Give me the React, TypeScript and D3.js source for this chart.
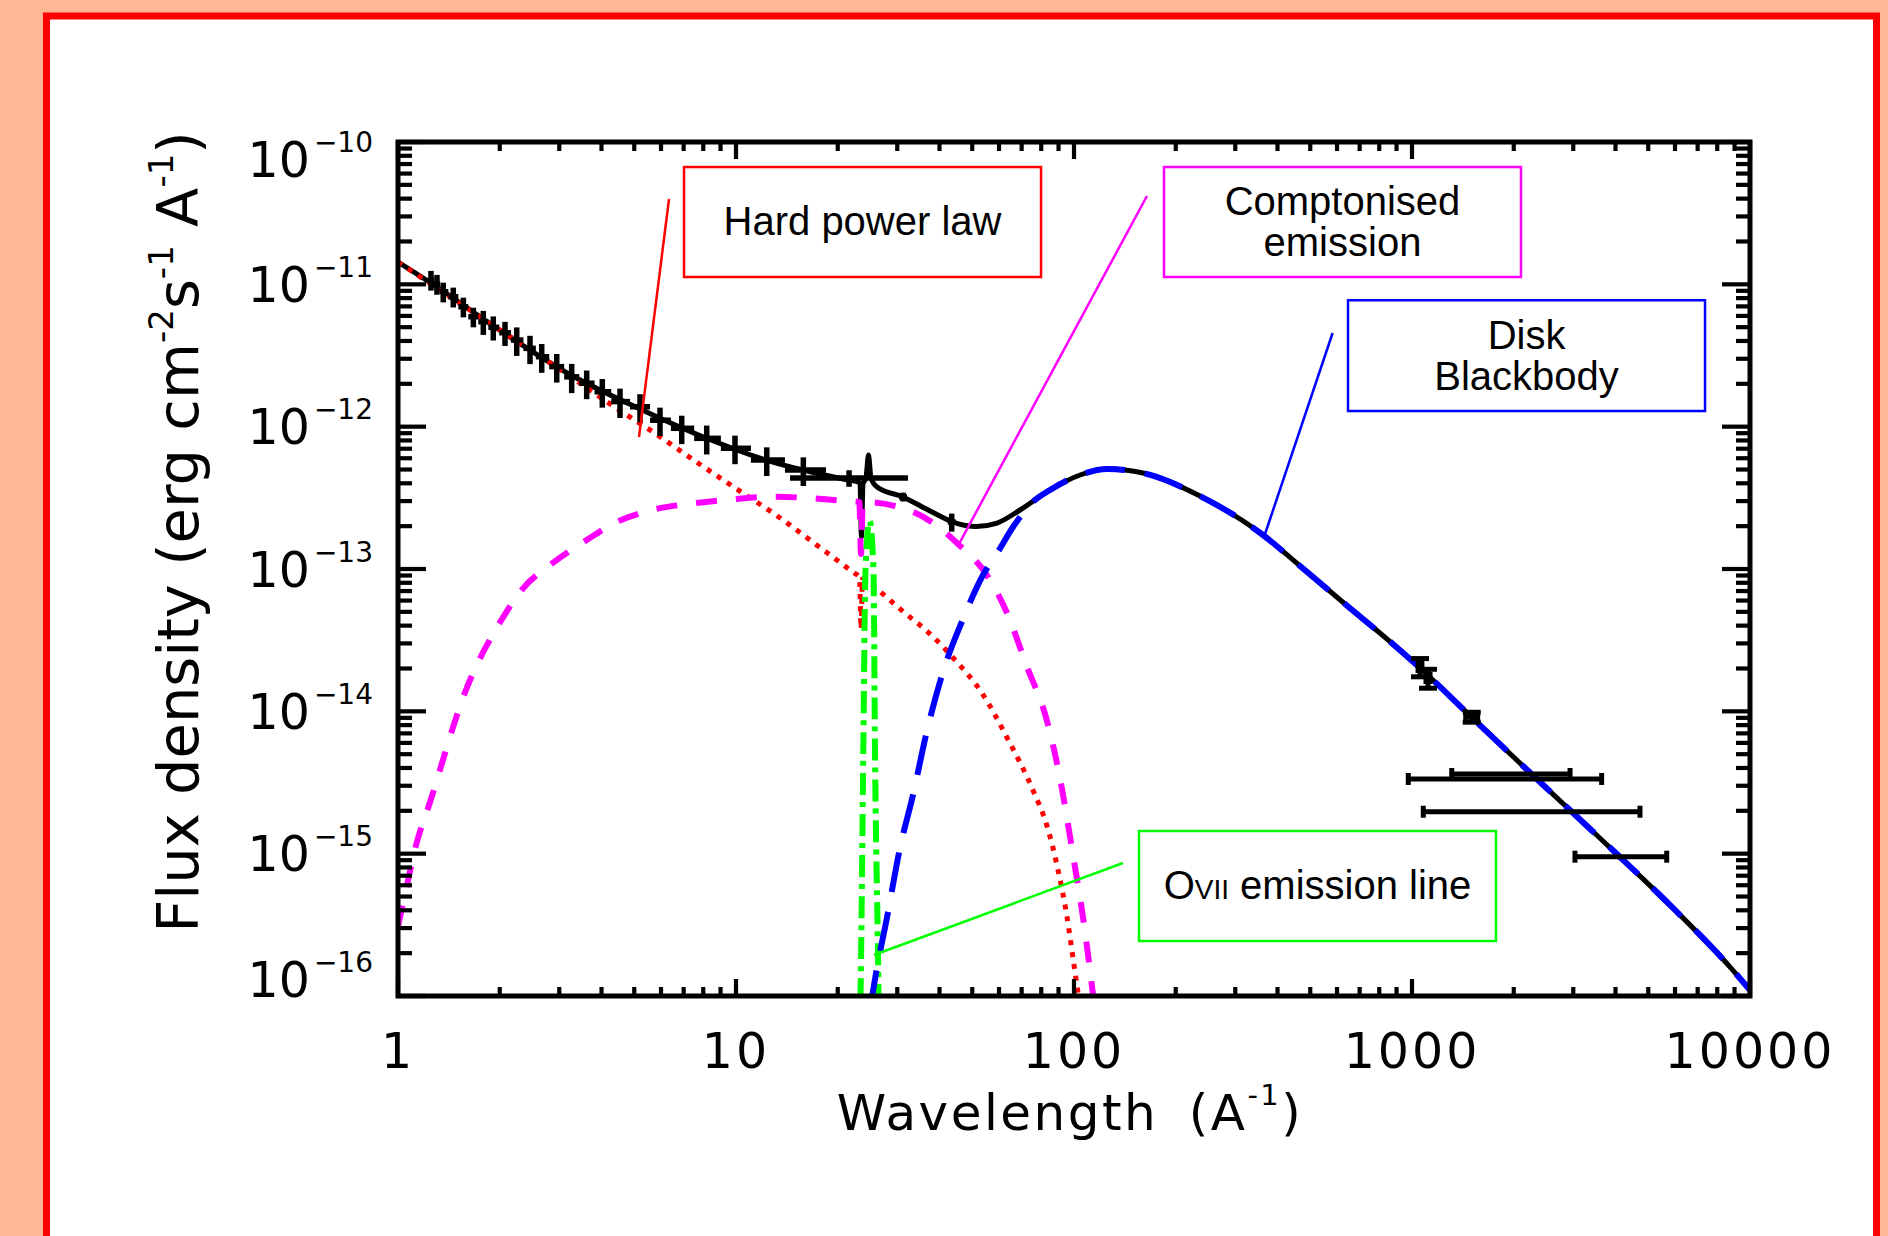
import React from 'react';
import * as d3 from 'd3';

// binned X-ray spectrum (wavelength in A^-1, flux in erg cm^-2 s^-1 A^-1)
const obsWave = [1.252, 1.304, 1.361, 1.457, 1.561, 1.671, 1.788, 1.914, 2.073, 2.245, 2.458, 2.662, 2.949, 3.265, 3.616, 4.022, 4.538, 5.2, 5.958, 6.909, 8.191, 9.932, 12.33, 15.82, 21.6, 31.2, 43.47];
const obsWaveLo = [1.227, 1.278, 1.333, 1.409, 1.508, 1.614, 1.728, 1.85, 1.993, 2.158, 2.35, 2.558, 2.802, 3.102, 3.436, 3.815, 4.274, 4.858, 5.568, 6.418, 7.522, 9.022, 11.07, 13.96, 14.45, 30.36, 42.3];
const obsWaveHi = [1.278, 1.333, 1.409, 1.508, 1.614, 1.728, 1.85, 1.993, 2.158, 2.35, 2.558, 2.802, 3.102, 3.436, 3.815, 4.274, 4.858, 5.568, 6.418, 7.522, 9.022, 11.07, 13.96, 18.46, 32.28, 32.06, 44.67];
const obsFlux = [1.073e-11, 1.005e-11, 8.87e-12, 8.18e-12, 6.96e-12, 5.92e-12, 5.46e-12, 4.99e-12, 4.57e-12, 4.06e-12, 3.55e-12, 3.1e-12, 2.64e-12, 2.24e-12, 2.02e-12, 1.76e-12, 1.5e-12, 1.38e-12, 1.11e-12, 9.74e-13, 8.28e-13, 7.05e-13, 5.83e-13, 4.96e-13, 4.36e-13, 3.21e-13, 2.14e-13];
const obsFluxErr = [1.7e-12, 1.6e-12, 1.4e-12, 1.3e-12, 1.1e-12, 9.3e-13, 1.05e-12, 9.6e-13, 8.8e-13, 9.2e-13, 8.0e-13, 7.1e-13, 6.0e-13, 5.2e-13, 4.6e-13, 4.0e-13, 3.5e-13, 3.1e-13, 2.5e-13, 2.2e-13, 1.9e-13, 1.6e-13, 1.33e-13, 1.13e-13, 5.8e-14, 2.3e-14, 3.1e-14];

// UV / optical photometry
const photWave = [1056, 1115, 1502, 1884, 1963, 2261, 4148];
const photWaveLo = [1042, 1100, 1442, 975, 1311, 1080, 3035];
const photWaveHi = [1070, 1131, 1564, 3640, 2935, 4726, 5670];
const photFlux = [2.048e-14, 1.714e-14, 9.12e-15, 3.346e-15, 3.63e-15, 1.971e-15, 9.52e-16];
const photFluxErr = [3.0e-15, 2.6e-15, 7.3e-16, 0, 0, 0, 0];

// model: total
const totalWave = [1.0, 1.252, 1.936, 3.249, 5.2, 8.152, 12.27, 15.79, 21.45, 22.96, 23.27, 23.51, 23.75, 24.24, 24.66, 25.08, 26.14, 31.2, 37.5, 43.86, 51.3, 59.19, 69.24, 84.93, 104.2, 125.2, 160.0, 236.0, 362.4, 466.4, 633.7, 884.6, 1056, 1502, 2281, 2975, 4126, 6000, 8785, 10000];
const totalFlux = [1.435e-11, 1.022e-11, 5.014e-12, 2.307e-12, 1.331e-12, 8.32e-13, 5.83e-13, 4.96e-13, 4.22e-13, 4.086e-13, 3.956e-13, 1.678e-13, 3.956e-13, 4.36e-13, 6.32e-13, 4.36e-13, 3.77e-13, 3.21e-13, 2.555e-13, 2.138e-13, 1.988e-13, 2.103e-13, 2.597e-13, 3.59e-13, 4.575e-13, 5.04e-13, 4.725e-13, 3.257e-13, 1.733e-13, 1.05e-13, 5.675e-14, 2.924e-14, 2.016e-14, 9.08e-15, 3.54e-15, 1.962e-15, 9.47e-16, 4.02e-16, 1.572e-16, 1.1e-16];

// model: hard power law
const powerWave = [1.0, 1.936, 3.184, 4.288, 5.759, 7.736, 9.818, 13.34, 17.49, 22.43, 23.2, 23.44, 23.67, 26.09, 30.56, 38.35, 43.95, 53.91, 63.23, 75.79, 83.04, 89.69, 95.15, 100.0, 103.5];
const powerFlux = [1.435e-11, 5.04e-12, 2.307e-12, 1.42e-12, 8.98e-13, 5.53e-13, 3.786e-13, 2.331e-13, 1.45e-13, 9.33e-14, 8.78e-14, 3.79e-14, 8.5e-14, 7.23e-14, 5.24e-14, 3.33e-14, 2.37e-14, 1.302e-14, 6.6e-15, 2.756e-15, 1.59e-15, 7.68e-16, 3.707e-16, 1.651e-16, 9.37e-17];

// model: comptonised emission
const comptWave = [1.0, 1.061, 1.123, 1.244, 1.589, 2.038, 2.321, 2.859, 3.616, 4.455, 5.632, 7.502, 9.731, 12.81, 16.84, 21.02, 23.17, 23.44, 23.71, 31.26, 40.13, 45.99, 55.18, 63.23, 72.47, 83.04, 90.89, 99.53, 106.5, 114.0];
const comptFlux = [3.1e-16, 5.86e-16, 1.078e-15, 2.306e-15, 1.412e-14, 4.504e-14, 7.119e-14, 1.096e-13, 1.598e-13, 2.149e-13, 2.597e-13, 2.894e-13, 3.088e-13, 3.221e-13, 3.139e-13, 3.004e-13, 2.956e-13, 1.274e-13, 2.956e-13, 2.669e-13, 1.941e-13, 1.455e-13, 9.09e-14, 4.97e-14, 2.081e-14, 8.69e-15, 3.4e-15, 9.5e-16, 3.475e-16, 9.92e-17];

// model: disk blackbody
const diskWave = [24.91, 26.09, 27.92, 30.56, 33.39, 36.66, 40.96, 46.95, 53.8, 60.0, 65.99, 76.67, 84.93, 104.2, 125.2, 160.0, 236.0, 362.4, 466.4, 633.7, 884.6, 1056, 1502, 2281, 2975, 4126, 6000, 8785, 10000];
const diskFlux = [7.97e-17, 1.547e-16, 3.475e-16, 1.095e-15, 2.583e-15, 7.157e-15, 1.89e-14, 4.45e-14, 9.073e-14, 1.359e-13, 1.972e-13, 3.052e-13, 3.59e-13, 4.575e-13, 5.04e-13, 4.725e-13, 3.257e-13, 1.733e-13, 1.05e-13, 5.675e-14, 2.924e-14, 2.016e-14, 9.08e-15, 3.54e-15, 1.962e-15, 9.47e-16, 4.02e-16, 1.572e-16, 1.1e-16];

// model: O VII emission line
const lineWave = [23.35, 23.44, 23.8, 24.16, 24.83, 25.52, 25.78, 26.32, 26.41];
const lineFlux = [9.37e-17, 1.79e-16, 5.1e-15, 9.84e-14, 2.174e-13, 9.84e-14, 5.1e-15, 1.79e-16, 9.37e-17];

const xTickValues = [1, 10, 100, 1000, 10000];
const xTickLabels = ['1', '10', '100', '1000', '10000'];
const yTickValues = [1e-16, 1e-15, 1e-14, 1e-13, 1e-12, 1e-11, 1e-10];
const yTickExps = ['−16', '−15', '−14', '−13', '−12', '−11', '−10'];

// annotation boxes, in data units
const annoColors = ['#ff0000', '#ff00ff', '#0000ff', '#00ff00'];
const annoBoxWave = [[7.018, 79.88], [184.6, 2101], [646.7, 7361], [155.7, 1772]];
const annoBoxFlux = [[6.67e-11, 1.126e-11], [6.67e-11, 1.126e-11], [7.73e-12, 1.288e-12], [1.443e-15, 2.434e-16]];
const annoLineWave = [[6.336, 5.165], [164.4, 45.67], [582.3, 364.9], [139.6, 25.6]];
const annoLineFlux = [[3.977e-11, 8.46e-13], [4.175e-11, 1.498e-13], [4.55e-12, 1.678e-13], [8.6e-16, 1.94e-16]];
const annoLines = [['Hard power law'], ['Comptonised', 'emission'], ['Disk', 'Blackbody'], ['OVII']];

export default function App() {
  const W = 1888;
  const H = 1236;
  const m = { left: 398, right: 1750, top: 142, bottom: 996 };

  const x = d3.scaleLog().domain([1, 10000]).range([m.left, m.right]);
  const y = d3.scaleLog().domain([1e-16, 1e-10]).range([m.bottom, m.top]);

  const line = d3
    .line<[number, number]>()
    .x((d) => x(d[0]))
    .y((d) => y(d[1]))
    .curve(d3.curveMonotoneX);
  const path = (w: number[], f: number[]) => line(d3.zip(w, f) as [number, number][]) || '';

  const isMajor = (v: number) => Math.abs(Math.log10(v) - Math.round(Math.log10(v))) < 1e-6;
  const axisFont = '"DejaVu Sans", sans-serif';
  const boxFont = '"Liberation Sans", Arial, sans-serif';
  const cap = 6;

  return (
    <div style={{ position: 'absolute', left: 0, top: 0 }}>
      <svg width={W} height={H} style={{ display: 'block' }}>
        <rect x={0} y={0} width={W} height={H} fill="#ffb796" />
        <rect x={46.5} y={16} width={1830} height={1300} fill="#ffffff" stroke="#ff0000" strokeWidth={7} />

        <defs>
          <clipPath id="plotClip">
            <rect x={m.left} y={m.top} width={m.right - m.left} height={m.bottom - m.top} />
          </clipPath>
        </defs>

        <g clipPath="url(#plotClip)" fill="none">
          <path d={path(totalWave, totalFlux)} stroke="#000" strokeWidth={5} />
          <path d={path(powerWave, powerFlux)} stroke="#ff0000" strokeWidth={5} strokeDasharray="5 7" />
          <path d={path(comptWave, comptFlux)} stroke="#ff00ff" strokeWidth={6} strokeDasharray="21 19" />
          <path d={path(lineWave, lineFlux)} stroke="#00ff00" strokeWidth={6} strokeDasharray="22 7 5 7" />
          <path d={path(diskWave, diskFlux)} stroke="#0000ff" strokeWidth={6} strokeDasharray="40 20" />

          <g stroke="#000" strokeWidth={5.5}>
            {obsWave.map((w, i) => (
              <g key={'o' + i}>
                <line x1={x(obsWaveLo[i])} x2={x(obsWaveHi[i])} y1={y(obsFlux[i])} y2={y(obsFlux[i])} />
                <line x1={x(w)} x2={x(w)} y1={y(obsFlux[i] - obsFluxErr[i])} y2={y(obsFlux[i] + obsFluxErr[i])} />
              </g>
            ))}
          </g>

          <g stroke="#000" strokeWidth={5}>
            {photWave.map((w, i) => {
              const yc = y(photFlux[i]);
              const xl = x(photWaveLo[i]);
              const xh = x(photWaveHi[i]);
              const ylo = y(photFlux[i] - photFluxErr[i]);
              const yhi = y(photFlux[i] + photFluxErr[i]);
              return (
                <g key={'p' + i}>
                  <line x1={xl} x2={xh} y1={yc} y2={yc} />
                  <line x1={xl} x2={xl} y1={yc - cap} y2={yc + cap} />
                  <line x1={xh} x2={xh} y1={yc - cap} y2={yc + cap} />
                  {photFluxErr[i] > 0 && (
                    <g>
                      <line x1={x(w)} x2={x(w)} y1={ylo} y2={yhi} />
                      <line x1={x(w) - cap - 3} x2={x(w) + cap + 3} y1={ylo} y2={ylo} />
                      <line x1={x(w) - cap - 3} x2={x(w) + cap + 3} y1={yhi} y2={yhi} />
                    </g>
                  )}
                </g>
              );
            })}
          </g>
        </g>

        {/* axes frame and ticks */}
        <rect x={m.left} y={m.top} width={m.right - m.left} height={m.bottom - m.top} fill="none" stroke="#000" strokeWidth={5} />
        <g stroke="#000" strokeWidth={4.2}>
          {x.ticks().map((v, i) => {
            const len = isMajor(v) ? 17 : 9;
            return (
              <g key={'xt' + i}>
                <line x1={x(v)} x2={x(v)} y1={m.bottom} y2={m.bottom - len} />
                <line x1={x(v)} x2={x(v)} y1={m.top} y2={m.top + len} />
              </g>
            );
          })}
          {y.ticks().map((v, i) => {
            const len = isMajor(v) ? 28 : 14;
            return (
              <g key={'yt' + i}>
                <line x1={m.left} x2={m.left + len} y1={y(v)} y2={y(v)} />
                <line x1={m.right} x2={m.right - len} y1={y(v)} y2={y(v)} />
              </g>
            );
          })}
        </g>

        {/* tick labels */}
        <g fontFamily={axisFont} fill="#000">
          {xTickValues.map((v, i) => (
            <text key={'xl' + i} x={x(v)} y={1068} fontSize={49} textAnchor="middle" letterSpacing={3}>
              {xTickLabels[i]}
            </text>
          ))}
          {yTickValues.map((v, i) => {
            const nudge = i === 0 ? -17 : i === yTickValues.length - 1 ? 17 : 0;
            return (
              <text key={'yl' + i} x={373} y={y(v) + 17.5 + nudge} fontSize={49} textAnchor="end">
                10
                <tspan dx={4} dy={-25} fontSize={28}>
                  {yTickExps[i]}
                </tspan>
              </text>
            );
          })}

          <text x={1070} y={1130} fontSize={50} textAnchor="middle" letterSpacing={2.5} wordSpacing={12}>
            Wavelength (A
            <tspan dy={-25} fontSize={29}>
              -1
            </tspan>
            <tspan dy={25}>)</tspan>
          </text>

          <text transform="translate(198,532) rotate(-90)" fontSize={57.5} textAnchor="middle">
            Flux density (erg cm
            <tspan dy={-25} fontSize={34}>
              -2
            </tspan>
            <tspan dy={25}>s</tspan>
            <tspan dy={-25} fontSize={34}>
              -1
            </tspan>
            <tspan dy={25}>{' A'}</tspan>
            <tspan dy={-25} fontSize={34}>
              -1
            </tspan>
            <tspan dy={25}>)</tspan>
          </text>
        </g>

        {/* annotations */}
        {annoColors.map((c, i) => {
          const bx0 = x(annoBoxWave[i][0]);
          const bx1 = x(annoBoxWave[i][1]);
          const by0 = y(annoBoxFlux[i][0]);
          const by1 = y(annoBoxFlux[i][1]);
          const cx = (bx0 + bx1) / 2;
          const cy = (by0 + by1) / 2;
          const lines = annoLines[i];
          return (
            <g key={'a' + i}>
              <line
                x1={x(annoLineWave[i][0])}
                y1={y(annoLineFlux[i][0])}
                x2={x(annoLineWave[i][1])}
                y2={y(annoLineFlux[i][1])}
                stroke={c}
                strokeWidth={2.5}
              />
              <rect x={bx0} y={by0} width={bx1 - bx0} height={by1 - by0} fill="none" stroke={c} strokeWidth={2.5} />
              {lines[0] === 'OVII' ? (
                <text x={cx} y={cy + 13} fontFamily={boxFont} fontSize={40} textAnchor="middle" fill="#000">
                  O<tspan fontSize={28}>VII</tspan>
                  {' emission line'}
                </text>
              ) : lines.length === 1 ? (
                <text x={cx} y={cy + 13} fontFamily={boxFont} fontSize={40} textAnchor="middle" fill="#000">
                  {lines[0]}
                </text>
              ) : (
                lines.map((t, k) => (
                  <text key={k} x={cx} y={cy - 7 + k * 41} fontFamily={boxFont} fontSize={40} textAnchor="middle" fill="#000">
                    {t}
                  </text>
                ))
              )}
            </g>
          );
        })}
      </svg>
    </div>
  );
}
